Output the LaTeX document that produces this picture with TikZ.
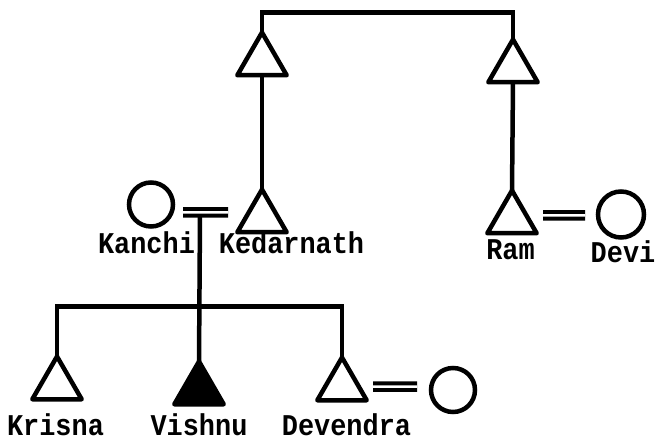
\documentclass[tikz,border=0pt]{standalone}
\usepackage{fontspec}
\usepackage{graphicx}
\setmonofont{Liberation Mono}
\usetikzlibrary{shapes.geometric}
\newcommand{\pedlabel}[1]{\scalebox{1}[1.12]{#1}}
\begin{document}
\begin{tikzpicture}[x=1bp,y=-1bp,
  line width=4.5bp,
  male/.style={draw, regular polygon, regular polygon sides=3, minimum size=57bp, inner sep=0pt, outer sep=0pt, line join=round},
  female/.style={draw, circle, minimum size=44bp, inner sep=0pt, outer sep=0pt},
  lbl/.style={font=\ttfamily\bfseries\fontsize{27}{27}\selectfont, anchor=base, inner sep=0pt},
  marry/.style={double, double distance=2.5bp, line width=4bp},
]
\useasboundingbox (0,0) rectangle (656,441);
% people
\node[male] (gl) at (262,61) {};
\node[male] (gr) at (513,68) {};
\node[female] (kanchi) at (151,204.5) {};
\node[male] (ked) at (262,218) {};
\node[male] (ram) at (512,219) {};
\node[female, minimum size=46bp] (devi) at (621,214.5) {};
\node[male] (kri) at (57,385) {};
\node[male, fill=black] (vis) at (199,390) {};
\node[male] (dev) at (342,386) {};
\node[female] (wife) at (453,390) {};
% labels
\node[lbl] (lkanchi) at (146.5,254) {\pedlabel{Kanchi}};
\node[lbl] (lked) at (291.5,254) {\pedlabel{Kedarnath}};
\node[lbl] (lram) at (510.5,260) {\pedlabel{Ram}};
\node[lbl] (ldevi) at (623,263) {\pedlabel{Devi}};
\node[lbl] (lkri) at (55.5,435) {\pedlabel{Krisna}};
\node[lbl] (lvis) at (199,435) {\pedlabel{Vishnu}};
\node[lbl] (ldev) at (346.5,435) {\pedlabel{Devendra}};
% sibling and descent lines
\draw (gl.north) -- ++(0,-20) -| (gr.north);
\draw (gl.south) -- (ked.north);
\draw (gr.south) -- (ram.north);
\coordinate (mk) at (200,216);
\draw (mk) -- (vis.north);
\draw (kri.north) -- ++(0,-50) -| (dev.north);
% marriages
\draw[marry, shorten <=10bp, shorten >=34bp] ([yshift=-8bp]kanchi.east) -- ([yshift=5.5bp]ked.center);
\draw[marry, shorten <=31bp, shorten >=13bp] ([yshift=3.5bp]ram.center) -- ([yshift=-1bp]devi.west);
\draw[marry, shorten <=31bp, shorten >=14bp] ([yshift=-0.5bp]dev.center) -- ([yshift=3.5bp]wife.west);
\end{tikzpicture}
\end{document}
